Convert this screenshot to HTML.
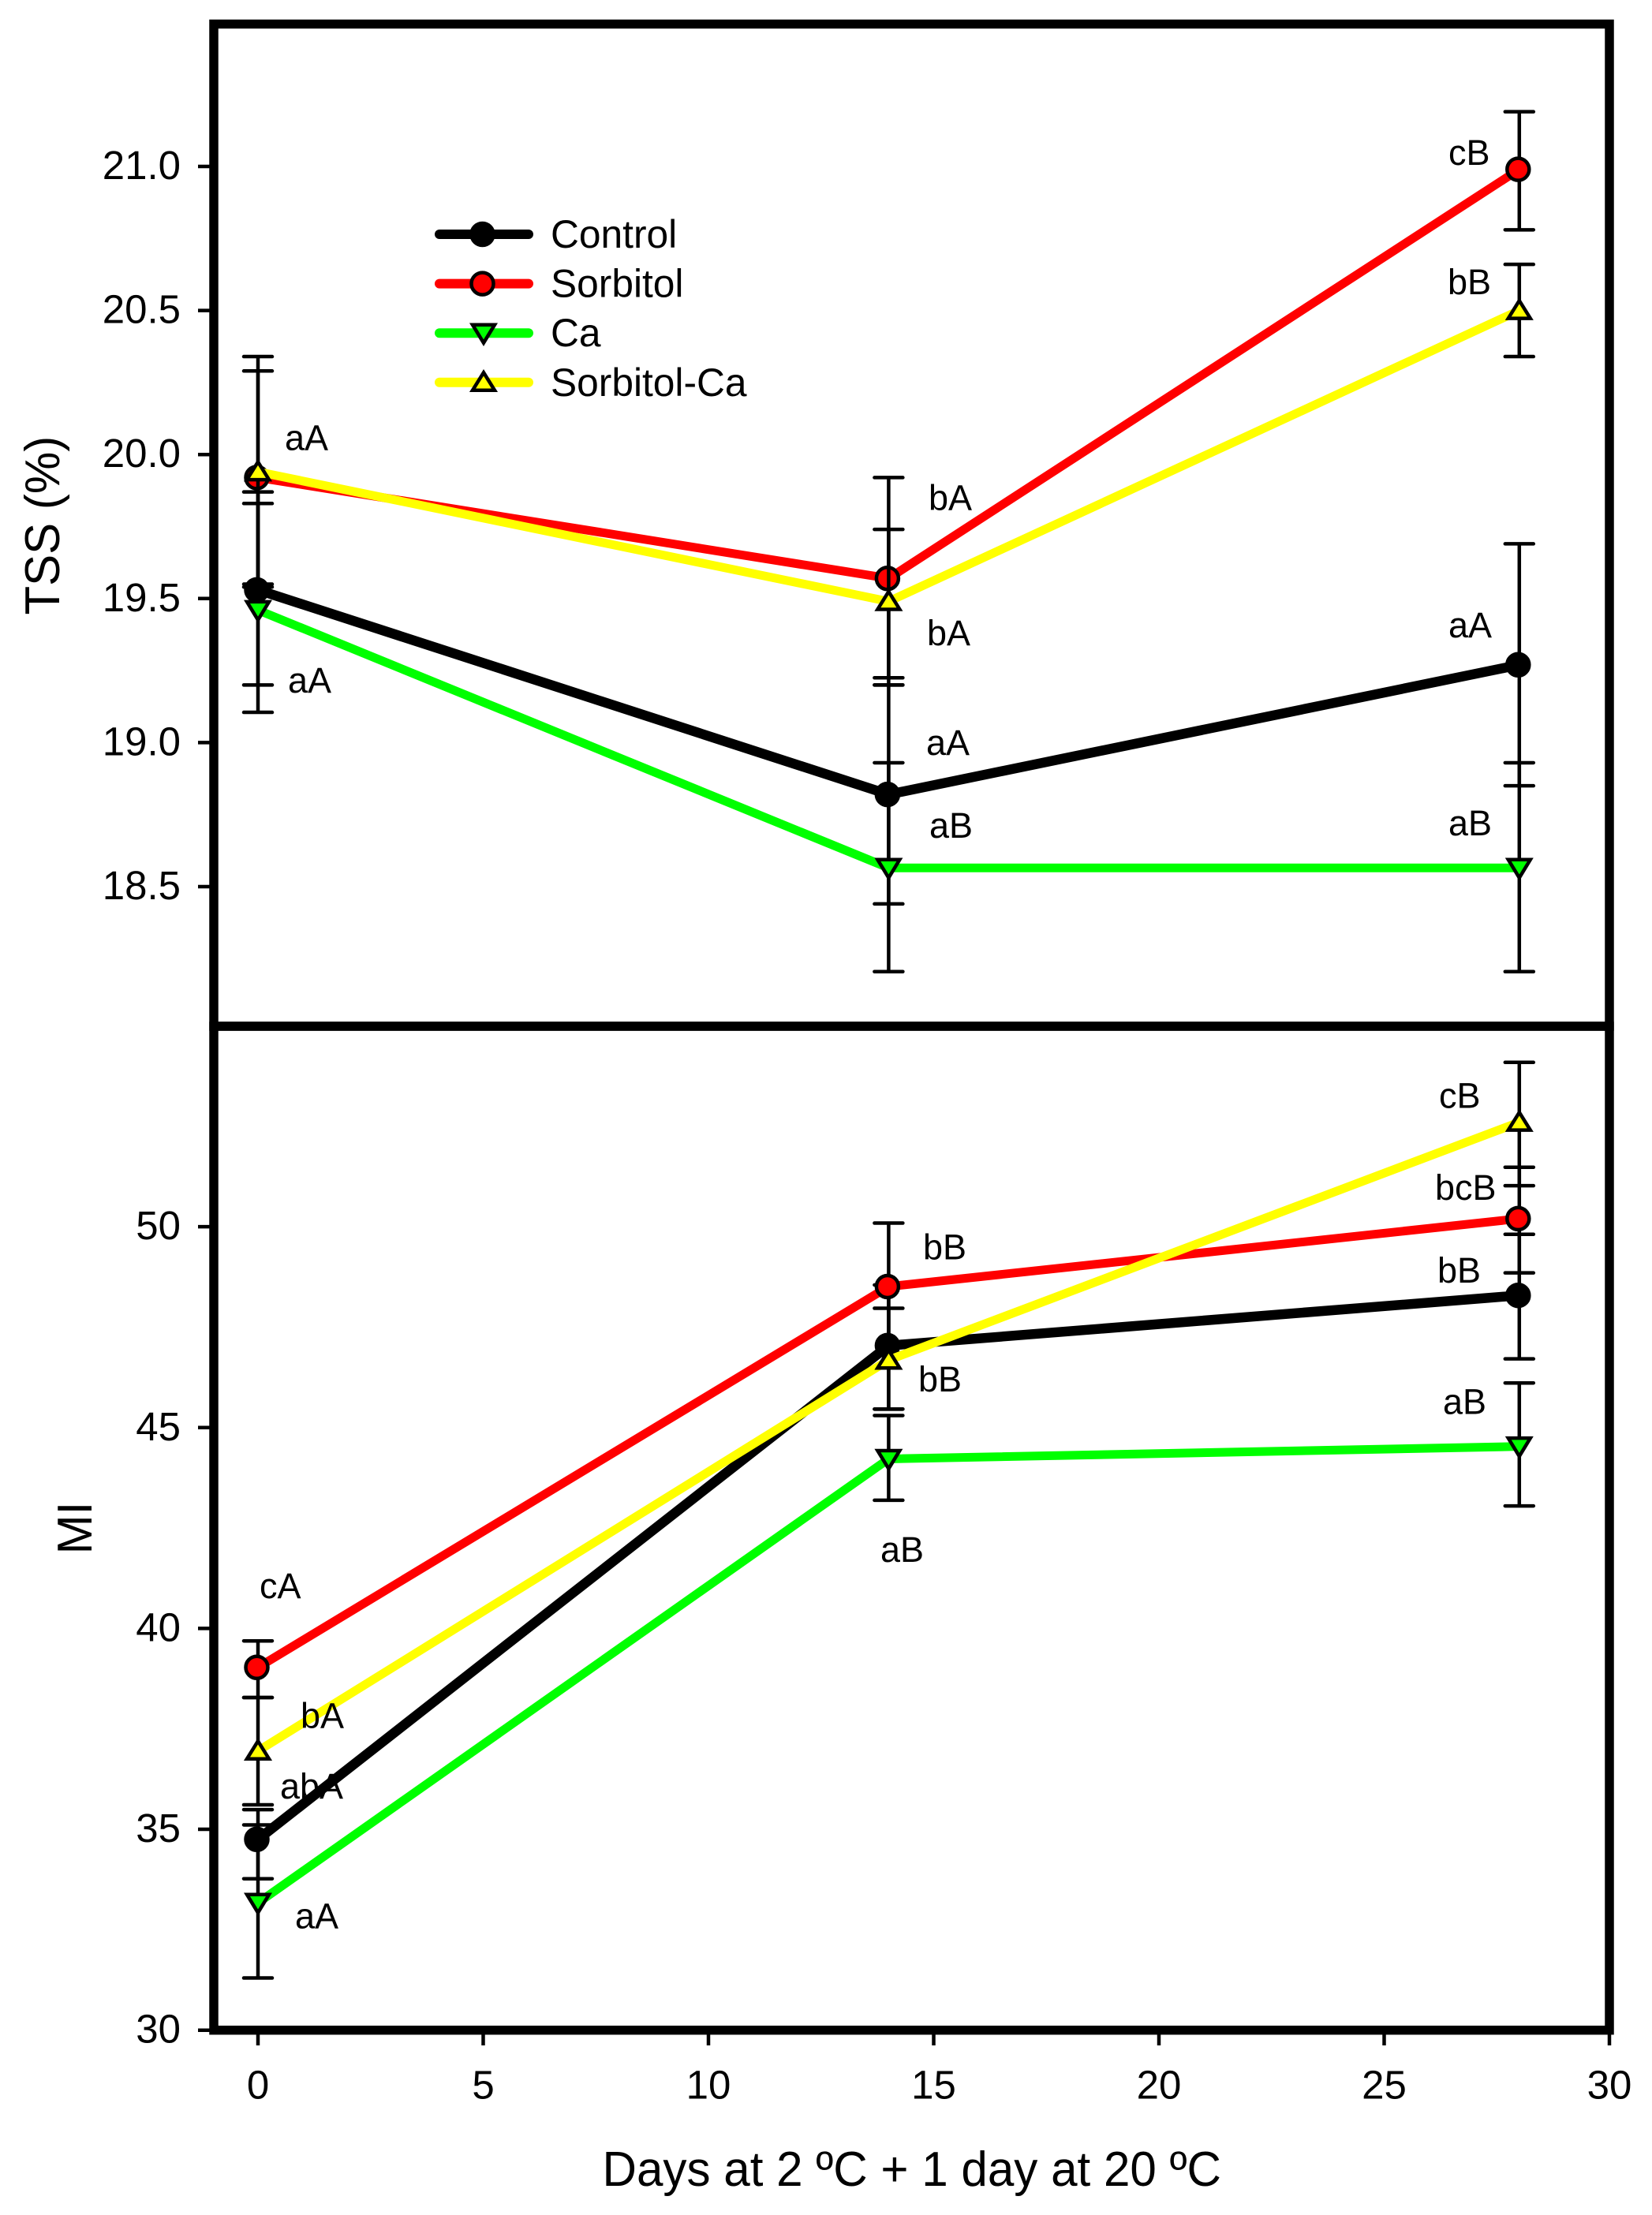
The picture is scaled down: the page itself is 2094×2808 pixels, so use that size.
<!DOCTYPE html>
<html lang="en">
<head>
<meta charset="utf-8">
<title>TSS and MI over storage days</title>
<style>
  html, body { margin: 0; padding: 0; background: #fff; }
  svg { display: block; }
  text { font-family: "Liberation Sans", Arial, sans-serif; fill: #000; }
  .tick-label { font-size: 51px; }
  .legend-label { font-size: 49.7px; }
  .note { font-size: 45px; }
  .title { font-size: 62px; }
</style>
</head>
<body>
<svg id="chart" xmlns="http://www.w3.org/2000/svg" width="2094" height="2808" viewBox="0 0 2094 2808">
  <rect x="0" y="0" width="2094" height="2808" fill="#ffffff"/>
  <g id="marks"></g>
  <g id="axes"></g>

  <rect x="271" y="30.5" width="1769" height="1270.5" fill="none" stroke="#000" stroke-width="11.5"/>
  <rect x="271" y="1301" width="1769" height="1272.7" fill="none" stroke="#000" stroke-width="11.5"/>

  <text class="title" transform="translate(75,779.5) rotate(-90)" textLength="226.7" lengthAdjust="spacingAndGlyphs">TSS (%)</text>
  <text class="title" transform="translate(116,1970.4) rotate(-90)" textLength="66.7" lengthAdjust="spacingAndGlyphs">MI</text>
  <text class="title" x="763.5" y="2771" textLength="784.5" lengthAdjust="spacingAndGlyphs">Days at 2 ºC + 1 day at 20 ºC</text>

  <g>
    <text class="note" x="361" y="570.5">aA</text>
    <text class="note" x="365" y="878">aA</text>
    <text class="note" x="1177" y="646.5">bA</text>
    <text class="note" x="1175" y="818">bA</text>
    <text class="note" x="1174" y="957">aA</text>
    <text class="note" x="1178" y="1062">aB</text>
    <text class="note" x="1836" y="209">cB</text>
    <text class="note" x="1835" y="373">bB</text>
    <text class="note" x="1836" y="808">aA</text>
    <text class="note" x="1836" y="1059">aB</text>
  </g>

  <g>
    <text class="note" x="329" y="2026">cA</text>
    <text class="note" x="381" y="2190.7">bA</text>
    <text class="note" x="355" y="2280">abA</text>
    <text class="note" x="374" y="2444.3">aA</text>
    <text class="note" x="1170" y="1596.7">bB</text>
    <text class="note" x="1164" y="1764">bB</text>
    <text class="note" x="1116" y="1980">aB</text>
    <text class="note" x="1824" y="1404.5">cB</text>
    <text class="note" x="1819" y="1521">bcB</text>
    <text class="note" x="1822" y="1626">bB</text>
    <text class="note" x="1829" y="1792.4">aB</text>
  </g>

  <g id="legend"></g>
</svg>

<script>
// ---- categories and ticks ----
const days = [0, 14, 28];
const xTicks = [0, 5, 10, 15, 20, 25, 30];
const tssTicks = [18.5, 19.0, 19.5, 20.0, 20.5, 21.0];
const miTicks = [30, 35, 40, 45, 50];
const seriesNames = ['Control', 'Sorbitol', 'Ca', 'Sorbitol-Ca'];

// ---- TSS (%) panel: mean, upper and lower error limits, per day ----
const tssControl = [19.53, 18.82, 19.27];
const tssControlHigh = [19.87, 19.20, 19.69];
const tssControlLow = [19.20, 18.44, 18.85];
const tssSorbitol = [19.92, 19.57, 20.99];
const tssSorbitolHigh = [20.29, 19.92, 21.19];
const tssSorbitolLow = [19.55, 19.20, 20.78];
const tssCa = [19.46, 18.565, 18.565];
const tssCaHigh = [19.83, 18.93, 18.93];
const tssCaLow = [19.105, 18.205, 18.205];
const tssSorbitolCa = [19.94, 19.49, 20.50];
const tssSorbitolCaHigh = [20.34, 19.74, 20.66];
const tssSorbitolCaLow = [19.54, 19.225, 20.34];

// ---- MI panel: mean, upper and lower error limits, per day ----
const miControl = [34.75, 47.04, 48.29];
const miControlHigh = [35.49, 48.55, 49.81];
const miControlLow = [33.77, 45.46, 46.71];
const miSorbitol = [39.03, 48.51, 50.20];
const miSorbitolHigh = [39.69, 50.09, 51.48];
const miSorbitolLow = [38.28, 46.86, 48.85];
const miCa = [33.17, 44.22, 44.53];
const miCaHigh = [35.11, 45.30, 46.11];
const miCaLow = [31.30, 43.19, 43.05];
const miSorbitolCa = [36.95, 46.68, 52.60];
const miSorbitolCaHigh = [38.28, 47.97, 54.09];
const miSorbitolCaLow = [35.61, 45.46, 51.02];

// ---- axis functions ----
const xScale = function (d) { return 327 + d * 57.1; };
const yTss = function (v) { return 211 + (21 - v) * 365.2; };
const yMi = function (v) { return 2573.7 - (v - 30) * 50.93; };

const NS = 'http://www.w3.org/2000/svg';
const marksLayer = document.getElementById('marks');
const axesLayer = document.getElementById('axes');
const legendLayer = document.getElementById('legend');

function make(tag, parent, attrs) {
  const node = document.createElementNS(NS, tag);
  Object.keys(attrs).forEach(function (k) { node.setAttribute(k, attrs[k]); });
  parent.appendChild(node);
  return node;
}

const styles = {
  'Control': { line: '#000000', fill: '#000000', shape: 'circle', width: 12.5 },
  'Sorbitol': { line: '#ff0000', fill: '#ff0000', shape: 'circle', width: 11 },
  'Ca': { line: '#00ff00', fill: '#00ff00', shape: 'down', width: 11 },
  'Sorbitol-Ca': { line: '#ffff00', fill: '#ffff00', shape: 'up', width: 11 }
};

function drawMarker(parent, st, x, y, name) {
  let m;
  if (st.shape === 'circle') {
    m = make('circle', parent, { cx: x - 1.5, cy: y, r: 14, fill: st.fill, stroke: '#000', 'stroke-width': 4.5 });
  } else if (st.shape === 'down') {
    m = make('polygon', parent, {
      points: (x - 14) + ',' + (y - 10.5) + ' ' + (x + 14) + ',' + (y - 10.5) + ' ' + x + ',' + (y + 12.5),
      fill: st.fill, stroke: '#000', 'stroke-width': 4.5
    });
  } else {
    m = make('polygon', parent, {
      points: x + ',' + (y - 12.5) + ' ' + (x - 14) + ',' + (y + 10) + ' ' + (x + 14) + ',' + (y + 10),
      fill: st.fill, stroke: '#000', 'stroke-width': 4.5
    });
  }
  
  
}

function drawSeries(panel, label, st, means, highs, lows, yScale) {
  const key = panel + '-' + label.toLowerCase();
  const g = make('g', marksLayer, {});
  
  

  days.forEach(function (d, i) {
    const x = xScale(d);
    const stem = make('line', g, {
      x1: x, x2: x, y1: yScale(highs[i]), y2: yScale(lows[i]),
      stroke: '#000', 'stroke-width': 4.5
    });
    
    

    const capHigh = make('line', g, {
      x1: x - 18, x2: x + 18, y1: yScale(highs[i]), y2: yScale(highs[i]),
      stroke: '#000', 'stroke-width': 4.5, 'stroke-linecap': 'round'
    });
    
    

    const capLow = make('line', g, {
      x1: x - 18, x2: x + 18, y1: yScale(lows[i]), y2: yScale(lows[i]),
      stroke: '#000', 'stroke-width': 4.5, 'stroke-linecap': 'round'
    });
    
    
  });

  const line = make('polyline', g, {
    points: days.map(function (d, i) { return xScale(d) + ',' + yScale(means[i]); }).join(' '),
    fill: 'none', stroke: st.line, 'stroke-width': st.width, 'stroke-linejoin': 'bevel'
  });
  
  

  days.forEach(function (d, i) {
    drawMarker(g, st, xScale(d), yScale(means[i]), key + '-point-day' + d);
  });
}

// top panel
drawSeries('tss', 'Control', styles['Control'], tssControl, tssControlHigh, tssControlLow, yTss);
drawSeries('tss', 'Sorbitol', styles['Sorbitol'], tssSorbitol, tssSorbitolHigh, tssSorbitolLow, yTss);
drawSeries('tss', 'Ca', styles['Ca'], tssCa, tssCaHigh, tssCaLow, yTss);
drawSeries('tss', 'Sorbitol-Ca', styles['Sorbitol-Ca'], tssSorbitolCa, tssSorbitolCaHigh, tssSorbitolCaLow, yTss);

// bottom panel
drawSeries('mi', 'Control', styles['Control'], miControl, miControlHigh, miControlLow, yMi);
drawSeries('mi', 'Sorbitol', styles['Sorbitol'], miSorbitol, miSorbitolHigh, miSorbitolLow, yMi);
drawSeries('mi', 'Ca', styles['Ca'], miCa, miCaHigh, miCaLow, yMi);
drawSeries('mi', 'Sorbitol-Ca', styles['Sorbitol-Ca'], miSorbitolCa, miSorbitolCaHigh, miSorbitolCaLow, yMi);

// y axis ticks
function drawYTicks(ticks, yScale, decimals, prefix) {
  ticks.forEach(function (t) {
    const y = yScale(t);
    const tick = make('line', axesLayer, { x1: 251, x2: 268, y1: y, y2: y, stroke: '#000', 'stroke-width': 4.5 });
    
    
    const label = make('text', axesLayer, { x: 229, y: y + 16, 'text-anchor': 'end', class: 'tick-label' });
    label.textContent = t.toFixed(decimals);
    
    
  });
}
drawYTicks(tssTicks, yTss, 1, 'tss');
drawYTicks(miTicks, yMi, 0, 'mi');

// x axis ticks
xTicks.forEach(function (t) {
  const x = xScale(t);
  const tick = make('line', axesLayer, { x1: x, x2: x, y1: 2576, y2: 2593, stroke: '#000', 'stroke-width': 4.5 });
  
  
  const label = make('text', axesLayer, { x: x, y: 2660.5, 'text-anchor': 'middle', class: 'tick-label' });
  label.textContent = String(t);
  
  
});

// legend
seriesNames.forEach(function (name, i) {
  const st = styles[name];
  const y = 297 + i * 62.6;
  const key = name.toLowerCase();
  const swatch = make('line', legendLayer, {
    x1: 557, x2: 670, y1: y, y2: y,
    stroke: st.line, 'stroke-width': 12, 'stroke-linecap': 'round'
  });
  
  
  drawMarker(legendLayer, st, 613, y, 'legend-marker-' + key);
  const label = make('text', legendLayer, { x: 698, y: y + 17, class: 'legend-label' });
  label.textContent = name;
  
  
});
</script>
</body>
</html>
